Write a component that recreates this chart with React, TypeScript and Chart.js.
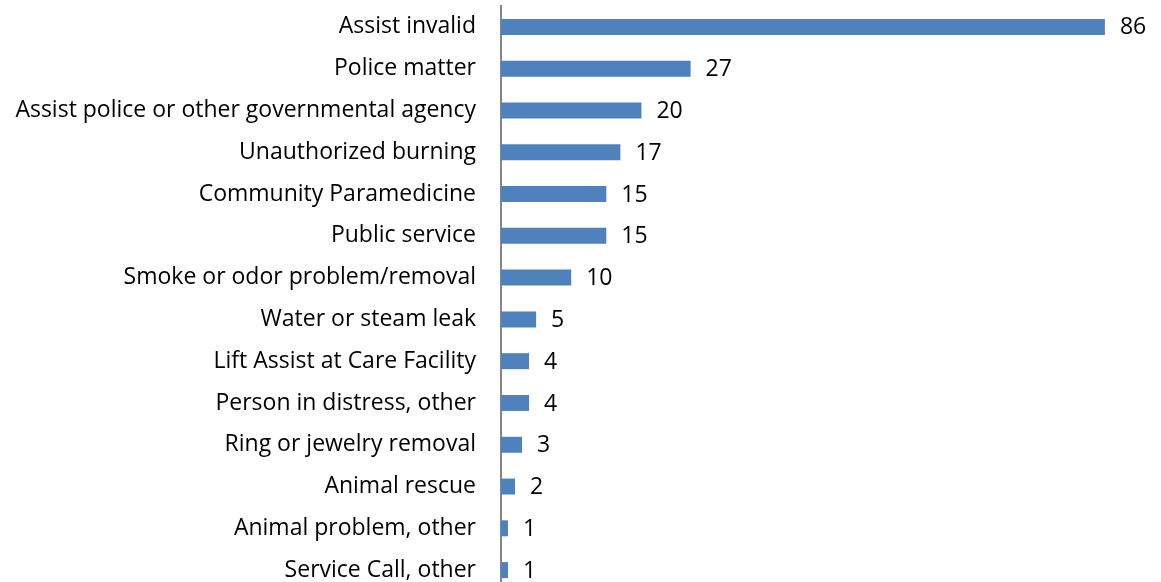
import React, { useEffect, useRef } from "react";
import { Chart, registerables } from "chart.js";

Chart.register(...registerables);

const categories = [
  "Assist invalid",
  "Police matter",
  "Assist police or other governmental agency",
  "Unauthorized burning",
  "Community Paramedicine",
  "Public service",
  "Smoke or odor problem/removal",
  "Water or steam leak",
  "Lift Assist at Care Facility",
  "Person in distress, other",
  "Ring or jewelry removal",
  "Animal rescue",
  "Animal problem, other",
  "Service Call, other",
];
const values = [86, 27, 20, 17, 15, 15, 10, 5, 4, 4, 3, 2, 1, 1];

const FONT = "'Open Sans'";
const SIZE = 23;

const valueLabels = {
  id: "valueLabels",
  afterDatasetsDraw(chart: any) {
    const { ctx } = chart;
    const meta = chart.getDatasetMeta(0);
    ctx.save();
    ctx.font = `${SIZE}px ${FONT}`;
    ctx.fillStyle = "#000";
    ctx.textAlign = "left";
    ctx.textBaseline = "middle";
    meta.data.forEach((bar: any, i: number) => {
      ctx.fillText(String(values[i]), bar.x + 15, bar.y + 1);
    });
    ctx.restore();
  },
};

export default function App() {
  const ref = useRef<HTMLCanvasElement>(null);
  useEffect(() => {
    if (!ref.current) return;
    const chart = new Chart(ref.current, {
      type: "bar",
      data: {
        labels: categories,
        datasets: [
          {
            data: values,
            backgroundColor: "#4F81BD",
            barPercentage: 0.75,
            categoryPercentage: 0.51,
          },
        ],
      },
      options: {
        indexAxis: "y",
        animation: false,
        responsive: false,
        maintainAspectRatio: false,
        layout: { padding: { top: 6, bottom: 9, left: 0, right: 28 } },
        plugins: { legend: { display: false }, tooltip: { enabled: false } },
        scales: {
          x: { display: false, min: 0, max: 90 },
          y: {
            grid: { display: false, drawTicks: false },
            border: { display: true, color: "#868686", width: 2 },
            ticks: {
              color: "#000",
              font: { family: FONT, size: SIZE },
              padding: 25,
              autoSkip: false,
            },
            afterFit(scale: any) {
              scale.width = 501;
              scale.paddingTop = 0;
              scale.paddingBottom = 0;
            },
          },
        },
      },
      plugins: [valueLabels],
    });
    return () => chart.destroy();
  }, []);
  return (
    <div style={{ position: "absolute", left: 0, top: 0, width: 1161, height: 582, overflow: "hidden", background: "#fff" }}>
      <canvas ref={ref} width={1161} height={600} style={{ display: "block" }} />
    </div>
  );
}
